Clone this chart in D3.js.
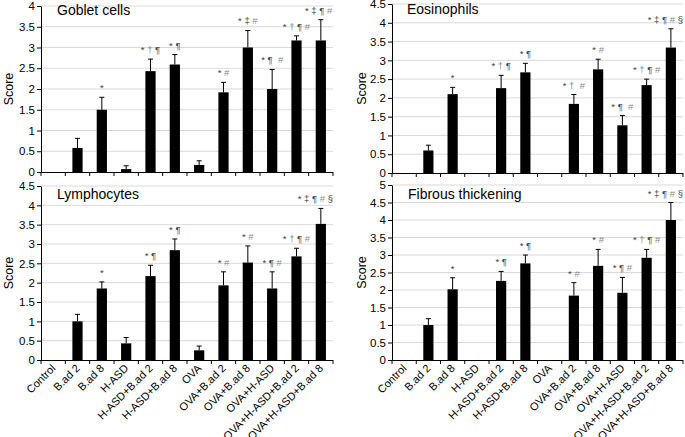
<!DOCTYPE html>
<html><head><meta charset="utf-8">
<script src="https://cdn.jsdelivr.net/npm/d3@7"></script>
<style>
html,body{margin:0;padding:0;background:#fff;}
svg{display:block;font-family:"Liberation Sans",Arial,sans-serif;}
</style></head>
<body>
<svg id="c" width="685" height="437"></svg>
<script>
const categories = ["Control","B.ad 2","B.ad 8","H-ASD","H-ASD+B.ad 2","H-ASD+B.ad 8","OVA","OVA+B.ad 2","OVA+B.ad 8","OVA+H-ASD","OVA+H-ASD+B.ad 2","OVA+H-ASD+B.ad 8"];

const gobletMean = [0, 0.58, 1.5, 0.07, 2.43, 2.59, 0.17, 1.92, 3.0, 2.0, 3.17, 3.17];
const gobletErr  = [0, 0.23, 0.3, 0.08, 0.29, 0.24, 0.1, 0.24, 0.41, 0.47, 0.11, 0.5];
const gobletSig  = ["", "", "*", "", "* † ¶", "* ¶", "", "* #", "* ‡ #", "* ¶  #", "* † ¶ #", "* ‡ ¶ #"];

const eosMean = [0, 0.6, 2.1, 0, 2.26, 2.68, 0, 1.84, 2.76, 1.27, 2.34, 3.34];
const eosErr  = [0, 0.14, 0.18, 0, 0.34, 0.24, 0, 0.25, 0.27, 0.26, 0.16, 0.5];
const eosSig  = ["", "", "*", "", "* † ¶", "* ¶", "", "* †  #", "* #", "* ¶  #", "* † ¶ #", "* ‡ ¶ # §"];

const lymMean = [0, 1.0, 1.85, 0.43, 2.17, 2.84, 0.25, 1.93, 2.52, 1.85, 2.68, 3.52];
const lymErr  = [0, 0.18, 0.17, 0.15, 0.28, 0.29, 0.11, 0.35, 0.43, 0.43, 0.21, 0.4];
const lymSig  = ["", "", "*", "", "* ¶", "* ¶", "", "* #", "* #", "* ¶ #", "* † ¶ #", "* ‡ ¶ # §"];

const fibMean = [0, 1.0, 2.02, 0, 2.26, 2.76, 0, 1.84, 2.69, 1.92, 2.92, 4.0];
const fibErr  = [0, 0.18, 0.33, 0, 0.27, 0.24, 0, 0.37, 0.47, 0.44, 0.24, 0.5];
const fibSig  = ["", "", "*", "", "* ¶", "* ¶", "", "* #", "* #", "* ¶ #", "* † ¶ #", "* ‡ ¶ # §"];

const panels = [
  {title:"Goblet cells", mean:gobletMean, err:gobletErr, sig:gobletSig, max:4,   x0:41,  x1:333, y0:172, y1:6,   labels:false, scoreX:9,   tx:57,  ty:15},
  {title:"Eosinophils", mean:eosMean, err:eosErr, sig:eosSig, max:4.5, x0:392, x1:683, y0:173, y1:4,   labels:false, scoreX:362, tx:407, ty:14},
  {title:"Lymphocytes", mean:lymMean, err:lymErr, sig:lymSig, max:4.5, x0:41,  x1:333, y0:360, y1:186, labels:true,  scoreX:9,   tx:57,  ty:199},
  {title:"Fibrous thickening", mean:fibMean, err:fibErr, sig:fibSig, max:5, x0:392, x1:683, y0:360, y1:185, labels:true, scoreX:362, tx:408, ty:199}
];

const symColor = ch => (ch === "†" || ch === "#") ? "#8a8a8a" : "#444";

const svg = d3.select("#c");

panels.forEach(p => {
  const g = svg.append("g");
  const x = d3.scaleBand().domain(categories).range([p.x0, p.x1]).paddingInner(0).paddingOuter(0);
  const y = d3.scaleLinear().domain([0, p.max]).range([p.y0, p.y1]);
  const ticks = d3.range(0, p.max + 0.001, 0.5);

  // gridlines
  g.selectAll("line.grid").data(ticks.filter(t => t > 0)).enter().append("line")
    .attr("x1", p.x0).attr("x2", p.x1)
    .attr("y1", d => y(d)).attr("y2", d => y(d))
    .attr("stroke", "#d9d9d9").attr("stroke-width", 1);

  // bars
  const bw = x.bandwidth();
  const barW = bw * 0.42;
  g.selectAll("rect.bar").data(categories).enter().append("rect")
    .attr("x", (c) => x(c) + (bw - barW) / 2)
    .attr("width", barW)
    .attr("y", (c, i) => y(p.mean[i]))
    .attr("height", (c, i) => p.y0 - y(p.mean[i]))
    .attr("fill", "#000");

  // error bars (upper only)
  categories.forEach((c, i) => {
    if (p.mean[i] <= 0) return;
    const cx = x(c) + bw / 2;
    const top = y(p.mean[i] + p.err[i]);
    g.append("line").attr("x1", cx).attr("x2", cx)
      .attr("y1", y(p.mean[i])).attr("y2", top)
      .attr("stroke", "#000").attr("stroke-width", 1);
    g.append("line").attr("x1", cx - 2.5).attr("x2", cx + 2.5)
      .attr("y1", top).attr("y2", top)
      .attr("stroke", "#000").attr("stroke-width", 1);
    if (p.sig[i]) {
      const t = g.append("text").attr("x", cx).attr("y", top - 6)
        .attr("text-anchor", "middle")
        .attr("font-size", 9.5)
        .style("white-space", "pre");
      t.selectAll("tspan").data(Array.from(p.sig[i])).enter().append("tspan")
        .attr("fill", ch => symColor(ch))
        .text(ch => ch);
      const bb = t.node().getBBox();
      if (bb.x + bb.width > p.x1) {
        t.attr("x", cx - (bb.x + bb.width - p.x1));
      }
    }
  });

  // y axis
  const yAxis = d3.axisLeft(y).tickValues(ticks).tickSize(4).tickSizeOuter(0)
    .tickFormat(d => String(d));
  const ya = g.append("g").attr("transform", `translate(${p.x0},0)`).call(yAxis);
  ya.select(".domain").attr("stroke", "#000");
  ya.selectAll(".tick line").attr("stroke", "#000");
  ya.selectAll(".tick text").attr("font-size", 11.5).attr("fill", "#000")
    .attr("font-family", "Liberation Sans, Arial, sans-serif").attr("x", -6);

  // x axis
  g.append("line").attr("x1", p.x0).attr("x2", p.x1)
    .attr("y1", p.y0 + 0.5).attr("y2", p.y0 + 0.5)
    .attr("stroke", "#000").attr("stroke-width", 1);
  const bounds = categories.map(c => x(c)).concat([p.x1]);
  g.selectAll("line.xt").data(bounds).enter().append("line")
    .attr("x1", d => d).attr("x2", d => d)
    .attr("y1", p.y0).attr("y2", p.y0 + 4)
    .attr("stroke", "#000");

  if (p.labels) {
    g.selectAll("text.xl").data(categories).enter().append("text")
      .attr("transform", c => `translate(${x(c) + bw / 2 + 3},${p.y0 + 9}) rotate(-45)`)
      .attr("text-anchor", "end")
      .attr("font-size", 11).attr("fill", "#000")
      .text(c => c);
  }

  // y title
  g.append("text")
    .attr("transform", `translate(${p.scoreX},${(p.y0 + p.y1) / 2}) rotate(-90)`)
    .attr("text-anchor", "middle").attr("dy", "0.35em")
    .attr("font-size", 12.5).attr("fill", "#000")
    .text("Score");

  // panel title
  g.append("text").attr("x", p.tx).attr("y", p.ty)
    .attr("font-size", 14).attr("fill", "#000")
    .text(p.title);
});
</script>
</body></html>
